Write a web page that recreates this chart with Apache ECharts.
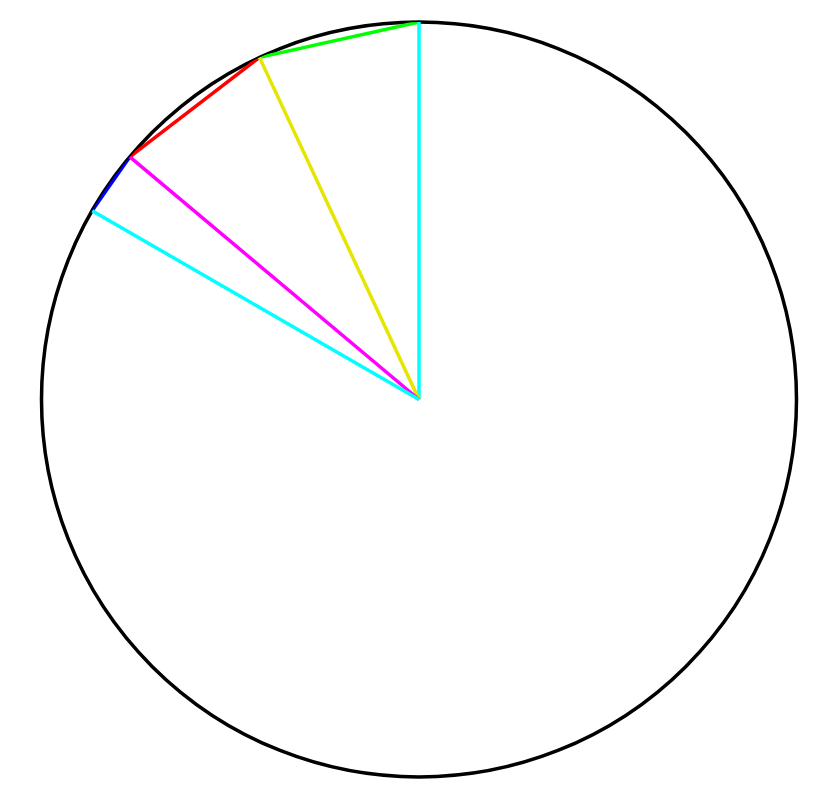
<!DOCTYPE html>
<html>
<head>
<meta charset="utf-8">
<script src="https://cdn.jsdelivr.net/npm/echarts@6/dist/echarts.min.js"></script>
<style>
  html, body { margin: 0; padding: 0; background: #fff; }
  #chart { width: 838px; height: 802px; }
</style>
</head>
<body>
<div id="chart"></div>
<script>
// slice boundaries, degrees counter-clockwise from 12 o'clock
const edgeAngles = [0, 25, 50, 60];
// colour of each radius line drawn at edgeAngles
const radiusColors = ['#00ffff', '#e5e500', '#ff00ff', '#00ffff'];
// colour of the straight chord between neighbouring edges
const chordColors = ['#00ff00', '#ff0000', '#0000ff'];

let series = [];

// chords along the rim
chordColors.forEach((c, i) => {
  series.push({
    type: 'line',
    coordinateSystem: 'polar',
    data: [[1, edgeAngles[i]], [1, edgeAngles[i + 1]]],
    showSymbol: false,
    lineStyle: { color: c, width: 3.5 },
    z: 3
  });
});

// radii from the centre
radiusColors.forEach((c, i) => {
  series.push({
    type: 'line',
    coordinateSystem: 'polar',
    data: [[0, edgeAngles[i]], [1, edgeAngles[i]]],
    showSymbol: false,
    lineStyle: { color: c, width: 3.5 },
    z: 4
  });
});

let myChart = echarts.init(document.getElementById('chart'));
myChart.setOption({
  animation: false,
  backgroundColor: '#ffffff',
  polar: {
    center: [419, 399.5],
    radius: 377.5
  },
  angleAxis: {
    type: 'value',
    min: 0,
    max: 360,
    startAngle: 90,
    clockwise: false,
    axisLine: { show: true, lineStyle: { color: '#000', width: 3.5 } },
    axisTick: { show: false },
    axisLabel: { show: false },
    splitLine: { show: false }
  },
  radiusAxis: {
    type: 'value',
    min: 0,
    max: 1,
    axisLine: { show: false },
    axisTick: { show: false },
    axisLabel: { show: false },
    splitLine: { show: false }
  },
  series: series
});
</script>
</body>
</html>
